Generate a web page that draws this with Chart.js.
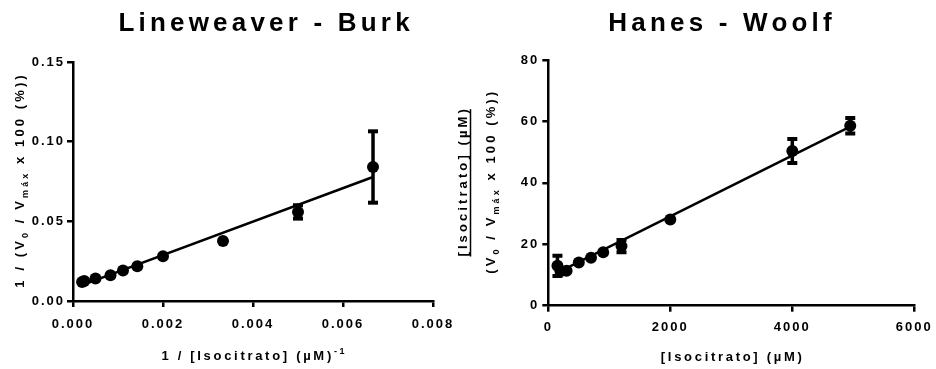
<!DOCTYPE html>
<html><head><meta charset="utf-8">
<script src="https://cdn.jsdelivr.net/npm/chart.js@4.4.1/dist/chart.umd.min.js"></script>
<style>
html,body{margin:0;padding:0;background:#fff;overflow:hidden;width:936px;height:369px}
#wrap{position:relative;width:936px;height:369px}
canvas{position:absolute;top:0}
#c1{left:0}
#c2{left:440px}
</style></head><body>
<div id="wrap"><canvas id="c1" width="470" height="369"></canvas><canvas id="c2" width="496" height="369"></canvas></div>
<script>
// ---------- data ----------
const lbTitle = 'Lineweaver - Burk';
const hwTitle = 'Hanes - Woolf';

// Lineweaver-Burk: 1/[S] vs 1/(V0/Vmax x 100)
const lbX   = [0.000202, 0.00025, 0.0005, 0.000833, 0.001111, 0.001429, 0.002, 0.003333, 0.005, 0.006667];
const lbY   = [0.0119, 0.0126, 0.0141, 0.0161, 0.0191, 0.0218, 0.0281, 0.0377, 0.0559, 0.0841];
const lbErr = [0, 0, 0, 0, 0, 0, 0, 0, 0.0042, 0.0224];
const lbFitX = [0.000202, 0.006667];
const lbFitY = [0.0100, 0.0778];
const lbXTicks = ['0.000', '0.002', '0.004', '0.006', '0.008'];
const lbYTicks = ['0.00', '0.05', '0.10', '0.15'];

// Hanes-Woolf: [S] vs [S]/(V0/Vmax x 100)
const hwX   = [150, 200, 300, 500, 700, 900, 1200, 2000, 4000, 4950];
const hwY   = [13.0, 11.2, 11.4, 14.1, 15.6, 17.4, 19.4, 28.1, 50.4, 58.6];
const hwErr = [3.3, 0, 0, 0, 0, 0, 2.0, 0, 3.9, 2.5];
const hwFitX = [150, 4950];
const hwFitY = [10.8, 58.3];
const hwXTicks = ['0', '2000', '4000', '6000'];
const hwYTicks = ['0', '20', '40', '60', '80'];

// axis titles (rich text segments)
const lbXTitle = [{text: '1 / [Isocitrato] (\u00b5M)'}, {text: '-1', sup: true}];
const lbYTitle = [{text: '1 / (V'}, {text: '0', sub: true}, {text: ' / V'}, {text: 'm\u00e1x', sub: true}, {text: ' x 100 (%))'}];
const hwXTitle = [{text: '[Isocitrato] (\u00b5M)'}];
const hwYTitleTop = [{text: '[Isocitrato] (\u00b5M)'}];
const hwYTitleBottom = [{text: '(V'}, {text: '0', sub: true}, {text: ' / V'}, {text: 'm\u00e1x', sub: true}, {text: ' x 100 (%))'}];

// ---------- styling helpers ----------
const FONT = "'Liberation Sans', Arial, sans-serif";
const TICK_SPACING = '2px';

function drawRich(ctx, segs, cx, cy, rotate, size, spacing, underline) {
  ctx.save();
  ctx.translate(cx, cy);
  if (rotate) ctx.rotate(-Math.PI / 2);
  ctx.letterSpacing = spacing + 'px';
  ctx.textBaseline = 'alphabetic';
  ctx.textAlign = 'left';
  ctx.fillStyle = '#000';
  const subSize = Math.round(size * 0.68);
  let total = 0;
  const widths = segs.map(s => {
    ctx.font = `bold ${(s.sub || s.sup) ? subSize : size}px ${FONT}`;
    const w = ctx.measureText(s.text).width;
    total += w;
    return w;
  });
  total -= spacing;
  let x = -total / 2;
  const base = size * 0.36;
  segs.forEach((s, i) => {
    ctx.font = `bold ${(s.sub || s.sup) ? subSize : size}px ${FONT}`;
    const dy = s.sub ? size * 0.3 : (s.sup ? -size * 0.45 : 0);
    ctx.fillText(s.text, x, base + dy);
    x += widths[i];
  });
  if (underline) {
    ctx.strokeStyle = '#000';
    ctx.lineWidth = 1.5;
    ctx.beginPath();
    ctx.moveTo(-total / 2, underline);
    ctx.lineTo(total / 2, underline);
    ctx.stroke();
  }
  ctx.restore();
}

const textPlugin = {
  id: 'richText',
  beforeLayout(chart) { chart.ctx.letterSpacing = TICK_SPACING; },
  beforeDraw(chart) { chart.ctx.letterSpacing = TICK_SPACING; },
  afterDraw(chart, args, o) {
    const ctx = chart.ctx, a = chart.chartArea;
    const cxArea = (a.left + a.right) / 2, cyArea = (a.top + a.bottom) / 2;
    drawRich(ctx, [{text: o.title}], o.titleX, o.titleY, false, 26, 4.2, 0);
    drawRich(ctx, o.xTitle, cxArea, o.xTitleY, false, 13, 2.7);
    o.yTitles.forEach(t => drawRich(ctx, t.segs, t.x, cyArea, true, 13, 3.1, t.underline));
    ctx.letterSpacing = TICK_SPACING;
  }
};

function pts(xs, ys) { return xs.map((x, i) => ({x, y: ys[i]})); }

function errorSets(xs, ys, es) {
  const out = [];
  xs.forEach((x, i) => {
    if (!es[i]) return;
    out.push({
      type: 'line', data: [{x, y: ys[i] - es[i]}, {x, y: ys[i] + es[i]}],
      borderColor: '#000', borderWidth: 3.5, showLine: true,
      pointStyle: 'line', pointRadius: 5, pointBorderWidth: 4, pointBorderColor: '#000',
      pointHoverRadius: 0, order: 2
    });
  });
  return out;
}

function axisCfg(min, max, step, labels, pad, fitFn) {
  return {
    type: 'linear', min, max,
    ticks: {
      stepSize: step, autoSkip: false, maxRotation: 0, padding: pad,
      color: '#000', font: {family: FONT, size: 13, weight: 'bold'},
      callback: (v, i) => labels[i]
    },
    grid: {display: true, drawOnChartArea: false, drawTicks: true, tickLength: 6, color: '#000', lineWidth: 2.5},
    border: {display: true, color: '#000', width: 2.5},
    afterFit: fitFn
  };
}

function makeChart(id, cfg) {
  return new Chart(document.getElementById(id), {
    type: 'scatter',
    data: {
      datasets: [
        {type: 'line', data: pts(cfg.fitX, cfg.fitY), borderColor: '#000', borderWidth: 2.5, pointRadius: 0, showLine: true, order: 3},
        {type: 'scatter', data: pts(cfg.x, cfg.y), backgroundColor: '#000', borderColor: '#000', borderWidth: 0, pointRadius: 6, order: 1},
        ...errorSets(cfg.x, cfg.y, cfg.err)
      ]
    },
    options: {
      responsive: false, animation: false, devicePixelRatio: 1,
      layout: {padding: {top: cfg.top, left: 0, right: 0, bottom: 0}},
      plugins: {legend: {display: false}, tooltip: {enabled: false}, title: {display: false},
        richText: cfg.text},
      scales: {
        x: axisCfg(cfg.xMin, cfg.xMax, cfg.xStep, cfg.xTicks, cfg.xPad, s => { s.height = cfg.xH; s.paddingLeft = 0; s.paddingRight = cfg.padR; }),
        y: axisCfg(cfg.yMin, cfg.yMax, cfg.yStep, cfg.yTicks, cfg.yPad, s => { s.width = cfg.yW; s.paddingTop = 0; s.paddingBottom = 0; })
      }
    },
    plugins: [textPlugin]
  });
}

makeChart('c1', {
  x: lbX, y: lbY, err: lbErr, fitX: lbFitX, fitY: lbFitY,
  xMin: 0, xMax: 0.008, xStep: 0.002, xTicks: lbXTicks,
  yMin: 0, yMax: 0.15, yStep: 0.05, yTicks: lbYTicks,
  top: 62, xH: 68, padR: 37, yW: 73, xPad: 10, yPad: 2,
  text: {title: lbTitle, titleX: 264, titleY: 22, xTitle: lbXTitle, xTitleY: 355,
         yTitles: [{segs: lbYTitle, x: 19}]}
});

makeChart('c2', {
  x: hwX, y: hwY, err: hwErr, fitX: hwFitX, fitY: hwFitY,
  xMin: 0, xMax: 6000, xStep: 2000, xTicks: hwXTicks,
  yMin: 0, yMax: 80, yStep: 20, yTicks: hwYTicks,
  top: 60, xH: 63.3, padR: 21.7, yW: 108.3, xPad: 8, yPad: 3,
  text: {title: hwTitle, titleX: 280, titleY: 22, xTitle: hwXTitle, xTitleY: 356,
         yTitles: [{segs: hwYTitleTop, x: 22, underline: 8.5}, {segs: hwYTitleBottom, x: 50}]}
});
</script>
</body></html>
